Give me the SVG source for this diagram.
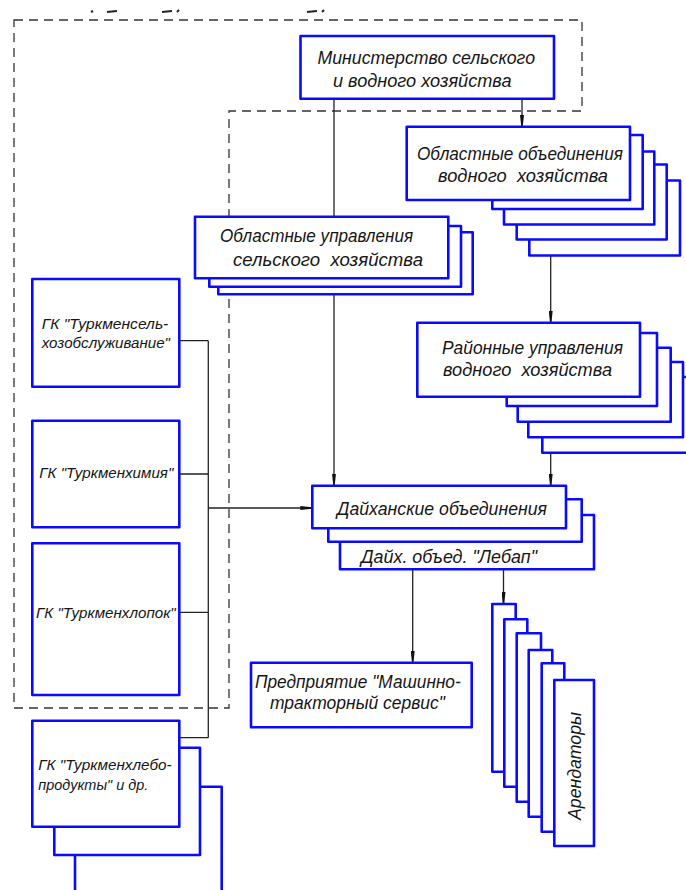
<svg xmlns="http://www.w3.org/2000/svg" width="686" height="890" viewBox="0 0 686 890">
<style>
.bx{fill:#fff;stroke:#0a0aff;stroke-width:2.6;stroke-linejoin:round}
.ln{fill:none;stroke:#222;stroke-width:1.3}
.dash{fill:none;stroke:#333;stroke-width:1.3;stroke-dasharray:9 6}
.t{font-family:"Liberation Sans","DejaVu Sans",sans-serif;font-style:italic;font-size:18px;fill:#151515;white-space:pre}
.s{font-size:15.5px}
.frag{fill:none;stroke:#222;stroke-width:2}
</style>
<defs>
<marker id="ar" markerUnits="userSpaceOnUse" viewBox="0 0 12 4" refX="12" refY="2" markerWidth="12" markerHeight="4" orient="auto">
<path d="M0,0 L12,1.3 L12,2.7 L0,4 z" fill="#111"/>
</marker>
</defs>
<rect width="686" height="890" fill="#fff"/>

<g id="top-fragments">
<path class="frag" d="M91,12 L93,11 M107,12 L117,11 M162,12 L172,11 M177,12 L179,10 M307,12 L317,11 M322,12 L324,10"/>
</g>

<g id="frame">
<path class="dash" d="M14,20 H582 V111 H229 V708 H14 Z"/>
</g>

<g id="connectors">
<path class="ln" d="M334,99 V485.5" marker-end="url(#ar)"/>
<path class="ln" d="M522,99 V127" marker-end="url(#ar)"/>
<path class="ln" d="M550.7,255 V322.7" marker-end="url(#ar)"/>
<path class="ln" d="M550.7,452 V485.5" marker-end="url(#ar)"/>
<path class="ln" d="M179.3,340.7 H208.3 M179.3,474 H208.3 M179.3,612.3 H208.3 M179.3,737.7 H208.3 M208.3,340.7 V737.7"/>
<path class="ln" d="M208.3,508 H312.3" marker-end="url(#ar)"/>
<path class="ln" d="M412.7,569 V662.7" marker-end="url(#ar)"/>
<path class="ln" d="M503.5,569 V604" marker-end="url(#ar)"/>
</g>

<g id="ministry">
<rect class="bx" x="300.5" y="36" width="253.5" height="62.7"/>
<text class="t" x="317.5" y="64" textLength="217.5" lengthAdjust="spacingAndGlyphs">Министерство сельского</text>
<text class="t" x="333" y="87" textLength="178.5" lengthAdjust="spacingAndGlyphs">и водного хозяйства</text>
</g>

<g id="oblast-vodn">
<rect class="bx" x="529.3" y="180.5" width="150.7" height="75"/>
<rect class="bx" x="516.7" y="164.5" width="150" height="75"/>
<rect class="bx" x="504" y="151.5" width="150.3" height="73"/>
<rect class="bx" x="492.3" y="135" width="150.4" height="74"/>
<rect class="bx" x="406.7" y="126.7" width="223.3" height="73.3"/>
<text class="t" x="417" y="160" textLength="206" lengthAdjust="spacingAndGlyphs">Областные объединения</text>
<text class="t" x="438" y="181.5" textLength="170" lengthAdjust="spacingAndGlyphs">водного  хозяйства</text>
</g>

<g id="oblast-sel">
<rect class="bx" x="218.3" y="232.3" width="254.4" height="62"/>
<rect class="bx" x="209.3" y="226" width="251.7" height="60.7"/>
<rect class="bx" x="195" y="216.7" width="253.3" height="61.6"/>
<text class="t" x="220" y="241.5" textLength="193" lengthAdjust="spacingAndGlyphs">Областные управления</text>
<text class="t" x="233" y="265.5" textLength="190" lengthAdjust="spacingAndGlyphs">сельского  хозяйства</text>
</g>

<g id="raion-vodn">
<rect class="bx" x="542.3" y="377" width="160" height="75.7"/>
<rect class="bx" x="528.3" y="362" width="154.7" height="75.3"/>
<rect class="bx" x="517.7" y="347.7" width="153" height="74"/>
<rect class="bx" x="506.7" y="333" width="150.3" height="73"/>
<rect class="bx" x="417.3" y="322.7" width="222.7" height="74"/>
<text class="t" x="442" y="354" textLength="181" lengthAdjust="spacingAndGlyphs">Районные управления</text>
<text class="t" x="443" y="376" textLength="169" lengthAdjust="spacingAndGlyphs">водного  хозяйства</text>
</g>

<g id="gk-selkhoz">
<rect class="bx" x="32.3" y="279" width="147" height="107.7"/>
<text class="t s" x="41.7" y="329" textLength="126.6" lengthAdjust="spacingAndGlyphs">ГК "Туркменсель-</text>
<text class="t s" x="41.7" y="347.5" textLength="128.3" lengthAdjust="spacingAndGlyphs">хозобслуживание"</text>
</g>

<g id="gk-khimiya">
<rect class="bx" x="32.3" y="420.7" width="147" height="106.6"/>
<text class="t s" x="39.3" y="478" textLength="134" lengthAdjust="spacingAndGlyphs">ГК "Туркменхимия"</text>
</g>

<g id="gk-khlopok">
<rect class="bx" x="32.3" y="543.3" width="147" height="151.7"/>
<text class="t s" x="36" y="618" textLength="139.7" lengthAdjust="spacingAndGlyphs">ГК "Туркменхлопок"</text>
</g>

<g id="gk-khleboprodukty">
<rect class="bx" x="75" y="786.7" width="146.7" height="120"/>
<rect class="bx" x="54.3" y="747.7" width="145.7" height="107.3"/>
<rect class="bx" x="32.3" y="720.7" width="147" height="106"/>
<text class="t s" x="38.3" y="770" textLength="133.4" lengthAdjust="spacingAndGlyphs">ГК "Туркменхлебо-</text>
<text class="t s" x="38.3" y="789.5" textLength="110" lengthAdjust="spacingAndGlyphs">продукты" и др.</text>
</g>

<g id="daikhan">
<rect class="bx" x="340" y="515" width="254" height="54.3"/>
<rect class="bx" x="328.3" y="499.3" width="253.4" height="42.4"/>
<rect class="bx" x="312.3" y="485.7" width="253.7" height="42.6"/>
<text class="t" x="337" y="515" textLength="210" lengthAdjust="spacingAndGlyphs">Дайханские объединения</text>
<text class="t" x="361" y="563" textLength="176" lengthAdjust="spacingAndGlyphs">Дайх. объед. "Лебап"</text>
</g>

<g id="predpriyatie">
<rect class="bx" x="251" y="662.7" width="220.7" height="64.6"/>
<text class="t" x="255" y="688" textLength="205.7" lengthAdjust="spacingAndGlyphs">Предприятие "Машинно-</text>
<text class="t" x="270" y="709" textLength="175" lengthAdjust="spacingAndGlyphs">тракторный сервис"</text>
</g>

<g id="arendatory">
<rect class="bx" x="492.3" y="604" width="23.4" height="167.7"/>
<rect class="bx" x="504.3" y="619.3" width="23" height="167.4"/>
<rect class="bx" x="516.7" y="633.3" width="24.3" height="168.4"/>
<rect class="bx" x="528.7" y="650" width="23.6" height="166.7"/>
<rect class="bx" x="541.7" y="663.3" width="22.6" height="168.4"/>
<rect class="bx" x="554.3" y="680" width="39.7" height="166"/>
<text class="t" transform="translate(581,766) rotate(-90)" x="0" y="0" text-anchor="middle" font-size="20" textLength="108" lengthAdjust="spacingAndGlyphs">Арендаторы</text>
</g>
</svg>
